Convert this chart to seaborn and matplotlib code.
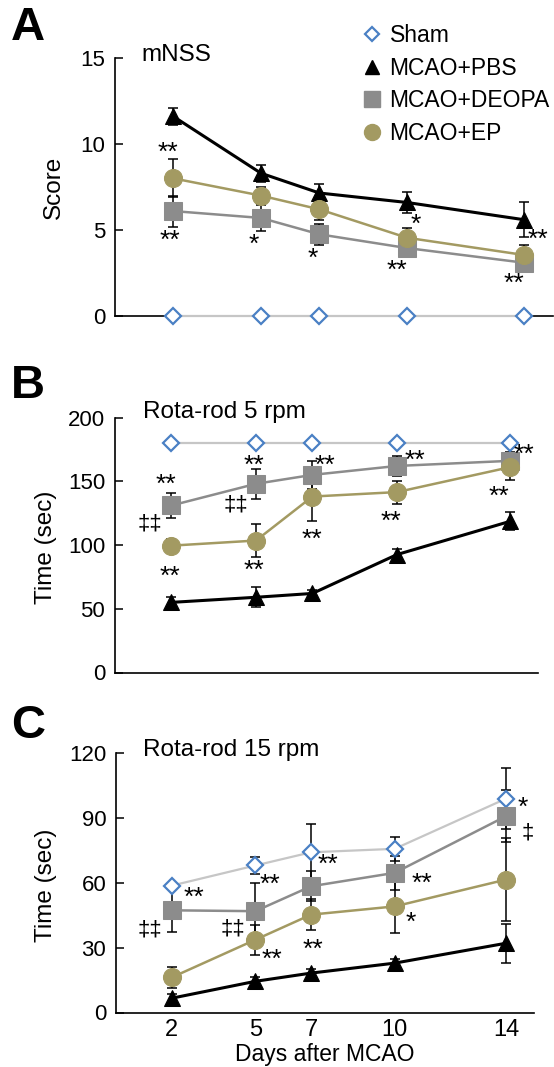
import numpy as np
import pandas as pd
import matplotlib
matplotlib.use('Agg')
import matplotlib.pyplot as plt
from matplotlib.lines import Line2D
import seaborn as sns

days = [2, 5, 7, 10, 14]
groups = ['Sham', 'MCAO+PBS', 'MCAO+DEOPA', 'MCAO+EP']

# A: mNSS score
mnss_sham = [0, 0, 0, 0, 0]
mnss_pbs = [11.6, 8.3, 7.15, 6.6, 5.6]
mnss_deopa = [6.1, 5.7, 4.75, 3.95, 3.1]
mnss_ep = [8.0, 7.0, 6.2, 4.55, 3.55]
mnss_sham_err = [0, 0, 0, 0, 0]
mnss_pbs_err = [0.5, 0.5, 0.55, 0.6, 1.0]
mnss_deopa_err = [0.9, 0.75, 0.6, 0.5, 0.4]
mnss_ep_err = [1.1, 0.5, 0.6, 0.55, 0.55]

# B: rota-rod 5 rpm (sec)
rr5_sham = [180, 180, 180, 180, 180]
rr5_pbs = [55, 59, 62, 92.5, 118.5]
rr5_deopa = [131, 148, 155, 162, 166]
rr5_ep = [99.5, 103.5, 138, 141.5, 161]
rr5_sham_err = [0, 0, 0, 0, 0]
rr5_pbs_err = [4, 8, 3, 4, 7]
rr5_deopa_err = [10, 12, 11, 8, 7]
rr5_ep_err = [5, 13, 19, 9, 10]

# C: rota-rod 15 rpm (sec)
rr15_sham = [58.6, 67.9, 74, 75.6, 98.8]
rr15_pbs = [6.6, 14.4, 18.2, 22.8, 32]
rr15_deopa = [47.2, 46.8, 58.3, 64.5, 90.7]
rr15_ep = [16.2, 33.6, 45.2, 49, 61.4]
rr15_sham_err = [0, 4, 13, 5.5, 14]
rr15_pbs_err = [2, 2, 2, 2, 9]
rr15_deopa_err = [10, 13, 7, 8, 12]
rr15_ep_err = [5, 7, 7, 12.5, 19]

# significance marks (x in days, y in data units = glyph centre)
marks_a = [(1.81, 9.94, '**'), (1.87, 4.8, '**'), (4.75, 4.6, '*'), (6.77, 3.8, '*'),
           (10.3, 5.75, '*'), (9.67, 3.05, '**'), (13.66, 2.3, '**'), (14.5, 4.9, '**')]
marks_b = [(1.81, 153, '**'), (1.24, 117, '‡‡'), (1.94, 81, '**'), (4.92, 168, '**'),
           (4.29, 132.5, '‡‡'), (4.92, 85.5, '**'), (7.45, 168, '**'), (6.97, 110, '**'),
           (10.64, 172, '**'), (9.77, 124, '**'), (14.5, 176.5, '**'), (13.6, 144, '**')]
marks_c = [(2.8, 56.5, '**'), (1.22, 38.5, '‡‡'), (5.53, 62.5, '**'), (4.2, 38.9, '‡‡'),
           (5.6, 27.8, '**'), (7.62, 71.8, '**'), (7.05, 32.4, '**'), (10.97, 63, '**'),
           (10.56, 45, '*'), (14.6, 98, '*'), (14.77, 83.4, '‡')]

styles = {
    'Sham': dict(marker='D', markersize=8.5, markerfacecolor='white', markeredgecolor='#4a80c4',
                 markeredgewidth=1.6, color='#c6c6c6', linewidth=1.6),
    'MCAO+PBS': dict(marker='^', markersize=12, markerfacecolor='black', markeredgecolor='black',
                     color='black', linewidth=2.2),
    'MCAO+DEOPA': dict(marker='s', markersize=13, markerfacecolor='#8c8c8c', markeredgecolor='#8c8c8c',
                       color='#8c8c8c', linewidth=1.8),
    'MCAO+EP': dict(marker='o', markersize=13, markerfacecolor='#a39a62', markeredgecolor='#a39a62',
                    color='#a39a62', linewidth=1.8),
}
legend_sizes = {'Sham': 7.5, 'MCAO+PBS': 10.5, 'MCAO+DEOPA': 11.5, 'MCAO+EP': 11.5}

sns.set_style('white')
plt.rcParams['font.family'] = ['Liberation Sans', 'DejaVu Sans']
plt.rcParams['text.color'] = 'black'
plt.rcParams['axes.labelcolor'] = 'black'
plt.rcParams['xtick.color'] = 'black'
plt.rcParams['ytick.color'] = 'black'

W, H = 554, 1067
fig = plt.figure(figsize=(W / 100, H / 100), dpi=100)


def px_axes(left, right, top, bottom):
    return fig.add_axes([left / W, 1 - bottom / H, (right - left) / W, (bottom - top) / H])


def draw_panel(ax, series, errs, ylim, yticks):
    for g in groups:
        df = pd.DataFrame({'day': days, 'value': series[g]})
        ax.errorbar(days, series[g], yerr=errs[g], fmt='none', ecolor='black',
                    elinewidth=1.1, capsize=3.8, capthick=1.1, zorder=2, clip_on=False)
        sns.lineplot(data=df, x='day', y='value', ax=ax, errorbar=None, zorder=3,
                     clip_on=False, **styles[g])
    ax.set_xlim(0, 15)
    ax.set_ylim(*ylim)
    ax.set_yticks(yticks)
    ax.set_xlabel('')
    ax.set_ylabel('')
    for s in ['top', 'right']:
        ax.spines[s].set_visible(False)
    for s in ['left', 'bottom']:
        ax.spines[s].set_color('black')
        ax.spines[s].set_linewidth(1.2)
    ax.tick_params(axis='y', direction='in', length=6, width=1.1, labelsize=16, pad=7,
                   left=True, colors='black')
    ax.tick_params(axis='x', length=0, labelsize=17, pad=5, colors='black')


def put_marks(ax, marks):
    for x, y, t in marks:
        if '*' in t:
            fs, off = 19, 0.56 * 19
        else:
            fs, off = 16, 0.3 * 16
        ax.annotate(t, (x, y), xytext=(0, -off), textcoords='offset points',
                    ha='center', va='baseline', fontsize=fs, color='black', zorder=5,
                    annotation_clip=False)


ax_a = px_axes(115, 553, 58, 316)
ax_b = px_axes(115, 538, 417.5, 672.5)
ax_c = px_axes(116, 534, 752.7, 1012.5)

draw_panel(ax_a,
           dict(zip(groups, [mnss_sham, mnss_pbs, mnss_deopa, mnss_ep])),
           dict(zip(groups, [mnss_sham_err, mnss_pbs_err, mnss_deopa_err, mnss_ep_err])),
           (0, 15), [0, 5, 10, 15])
draw_panel(ax_b,
           dict(zip(groups, [rr5_sham, rr5_pbs, rr5_deopa, rr5_ep])),
           dict(zip(groups, [rr5_sham_err, rr5_pbs_err, rr5_deopa_err, rr5_ep_err])),
           (0, 200), [0, 50, 100, 150, 200])
draw_panel(ax_c,
           dict(zip(groups, [rr15_sham, rr15_pbs, rr15_deopa, rr15_ep])),
           dict(zip(groups, [rr15_sham_err, rr15_pbs_err, rr15_deopa_err, rr15_ep_err])),
           (0, 120), [0, 30, 60, 90, 120])

ax_a.set_xticks([])
ax_b.set_xticks([])
ax_c.set_xticks(days)
ax_c.set_xticklabels([str(d) for d in days])
ax_c.set_xlabel('Days after MCAO', fontsize=16.5, labelpad=1)

ax_a.set_ylabel('Score', fontsize=17.5)
ax_a.yaxis.set_label_coords(-0.114, 0.5)
ax_b.set_ylabel('Time (sec)', fontsize=17.5)
ax_b.yaxis.set_label_coords(-0.138, 0.49)
ax_c.set_ylabel('Time (sec)', fontsize=17.5)
ax_c.yaxis.set_label_coords(-0.142, 0.49)

ax_a.text(0.06, 1.01, 'mNSS', transform=ax_a.transAxes, fontsize=17.5, va='center', ha='left')
ax_b.text(0.066, 1.02, 'Rota-rod 5 rpm', transform=ax_b.transAxes, fontsize=17.5, va='center', ha='left')
ax_c.text(0.065, 1.01, 'Rota-rod 15 rpm', transform=ax_c.transAxes, fontsize=17.5, va='center', ha='left')

put_marks(ax_a, marks_a)
put_marks(ax_b, marks_b)
put_marks(ax_c, marks_c)

for letter, y in [('A', 28), ('B', 386), ('C', 726)]:
    fig.text(11 / W, 1 - y / H, letter, fontsize=34, fontweight='bold', va='center', ha='left')

handles = []
for g in groups:
    st = styles[g]
    handles.append(Line2D([], [], linestyle='none', marker=st['marker'], markersize=legend_sizes[g],
                          markerfacecolor=st['markerfacecolor'], markeredgecolor=st['markeredgecolor'],
                          markeredgewidth=st.get('markeredgewidth', 1.0)))
fig.legend(handles, groups, loc='upper left', bbox_to_anchor=(362 / W, 1 - 24 / H),
           bbox_transform=fig.transFigure, frameon=False, fontsize=16.5, handlelength=0.9,
           handletextpad=0.3, labelspacing=0.42, borderpad=0, borderaxespad=0)

fig.savefig('out.png', dpi=100)
